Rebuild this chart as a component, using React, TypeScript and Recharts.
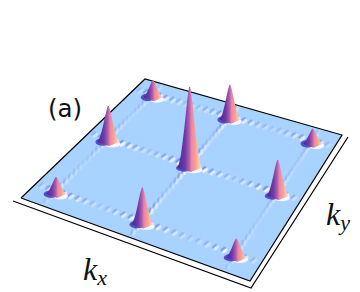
import { ScatterChart, Scatter, XAxis, YAxis } from 'recharts';

// peak positions in the (kx, ky) plane and their heights
const peakKx = [0.1, 0.5, 0.9, 0.1, 0.5, 0.9, 0.1, 0.5, 0.9];
const peakKy = [0.9, 0.9, 0.9, 0.5, 0.5, 0.5, 0.1, 0.1, 0.1];
const peakHeight = [17, 35, 15, 36, 81, 36, 17, 37, 19];
const peakWidth = [10, 10.5, 10, 11, 12, 11, 10.5, 11, 10.5];

// radial profile of one peak
const profileZ = [0, 0.06, 0.15, 0.3, 0.5, 0.7, 0.85, 1];
const profileR = [1, 0.88, 0.74, 0.6, 0.44, 0.3, 0.19, 0.05];

// ripples between neighbouring peaks
const gridK = [0.1, 0.5, 0.9];
const rippleK = [0.135, 0.17, 0.205, 0.24, 0.275, 0.31, 0.345, 0.38, 0.415, 0.45, 0.485];
const rippleAmp = [1, 0.85, 0.68, 0.52, 0.38, 0.26, 0.38, 0.52, 0.68, 0.88, 1];
const outerK = [0.03, 0.065];
const outerAmp = [0.4, 0.75];
const rowAmp = [0.85, 1, 0.75]; // along kx, at ky = 0.1, 0.5, 0.9
const colAmp = [0.45, 0.85, 0.4]; // along ky, at kx = 0.1, 0.5, 0.9

// plane corners on the page
const cornerX = [21, 250, 342, 145];
const cornerY = [198, 281, 135, 79];
const frameX = [13, 251, 348];
const frameY = [201, 288, 137];

const WIDTH = 360;
const HEIGHT = 292;

function project(u: number, v: number) {
  const [x0, x1, x2, x3] = cornerX;
  const [y0, y1, y2, y3] = cornerY;
  const sx = x0 - x1 + x2 - x3;
  const sy = y0 - y1 + y2 - y3;
  const dx1 = x1 - x2;
  const dx2 = x3 - x2;
  const dy1 = y1 - y2;
  const dy2 = y3 - y2;
  const den = dx1 * dy2 - dx2 * dy1;
  const g = (sx * dy2 - dx2 * sy) / den;
  const h = (dx1 * sy - sx * dy1) / den;
  const w = g * u + h * v + 1;
  return {
    x: ((x1 - x0 + g * x1) * u + (x3 - x0 + h * x3) * v + x0) / w,
    y: ((y1 - y0 + g * y1) * u + (y3 - y0 + h * y3) * v + y0) / w,
  };
}

const planeData = [0, 1, 2, 3, 0].map((i) => ({ x: cornerX[i], y: cornerY[i] }));
const frameData = frameX.map((x, i) => ({ x, y: frameY[i] }));

const ripples: { x: number; y: number; amp: number; tilt: number }[] = [];
gridK.forEach((line, n) => {
  const ks = [...outerK, ...rippleK, ...rippleK.map((k) => k + 0.4), ...outerK.map((k) => 1 - k)];
  const amps = [...outerAmp, ...rippleAmp, ...rippleAmp, ...outerAmp];
  ks.forEach((k, i) => {
    ripples.push({ ...project(k, line), amp: amps[i] * rowAmp[n], tilt: 52 });
    ripples.push({ ...project(line, k), amp: amps[i] * colAmp[n], tilt: 18 });
  });
});

const bases = peakKx.map((kx, i) => ({ ...project(kx, peakKy[i]), w: peakWidth[i] }));

function peakOutline(i: number) {
  const base = project(peakKx[i], peakKy[i]);
  const left = profileZ.map((z, n) => ({
    x: base.x - profileR[n] * peakWidth[i],
    y: base.y + 3 - z * peakHeight[i],
  }));
  const right = profileZ
    .map((z, n) => ({
      x: base.x + profileR[n] * peakWidth[i],
      y: base.y + 3 - z * peakHeight[i],
    }))
    .reverse();
  const bottom = { x: base.x + 1, y: base.y + 7 };
  return [...left, ...right, bottom, left[0]];
}

const NoDot = () => <g />;

const RippleMark = ({ cx, cy, payload }: any) => (
  <g filter="url(#soft)" transform={`rotate(${payload.tilt} ${cx} ${cy})`}>
    <ellipse cx={cx - 1.6} cy={cy} rx={1.2} ry={3.2} fill="#5f78e6" opacity={payload.amp * 0.9} />
    <ellipse cx={cx + 1} cy={cy} rx={1.5} ry={3.4} fill="#ffffff" opacity={payload.amp} />
  </g>
);

const BaseMark = ({ cx, cy, payload }: any) => (
  <g filter="url(#soft)">
    <ellipse cx={cx + 4} cy={cy + 5} rx={payload.w * 0.75} ry={3.4} fill="#ffffff" opacity={0.85} />
    <ellipse cx={cx - 5} cy={cy + 3} rx={payload.w * 0.72} ry={3.8} fill="#4030b4" opacity={0.8} />
  </g>
);

export default function App() {
  return (
    <div style={{ position: 'absolute', left: 0, top: 0, width: WIDTH, height: HEIGHT }}>
      <ScatterChart width={WIDTH} height={HEIGHT} margin={{ top: 0, right: 0, bottom: 0, left: 0 }}>
        <defs>
          <linearGradient id="peakFill" x1="0" y1="0" x2="1" y2="0">
            <stop offset="0" stopColor="#46289a" />
            <stop offset="0.3" stopColor="#6d3aa6" />
            <stop offset="0.47" stopColor="#a85cae" />
            <stop offset="0.58" stopColor="#ee84a6" />
            <stop offset="0.75" stopColor="#f8a48e" />
            <stop offset="1" stopColor="#ffe2cc" />
          </linearGradient>
          <filter id="soft" x="-60%" y="-60%" width="220%" height="220%">
            <feGaussianBlur stdDeviation="0.55" />
          </filter>
        </defs>
        <XAxis type="number" dataKey="x" domain={[0, WIDTH]} hide />
        <YAxis type="number" dataKey="y" domain={[0, HEIGHT]} reversed hide />
        <Scatter
          data={frameData}
          isAnimationActive={false}
          shape={NoDot}
          line={{ stroke: '#000000', strokeWidth: 1.2, fill: 'none' }}
        />
        <Scatter
          data={planeData}
          isAnimationActive={false}
          shape={NoDot}
          line={{ stroke: '#000000', strokeWidth: 1.2, fill: '#a8d2ff' }}
        />
        <Scatter data={ripples} isAnimationActive={false} shape={RippleMark} />
        <Scatter data={bases} isAnimationActive={false} shape={BaseMark} />
        {peakKx.map((_, i) => (
          <Scatter
            key={i}
            data={peakOutline(i)}
            isAnimationActive={false}
            shape={NoDot}
            line={{ stroke: 'none', fill: 'url(#peakFill)' }}
          />
        ))}
        <text x={48} y={117} fontFamily="DejaVu Sans" fontSize={24.5} fill="#111111">
          (a)
        </text>
        <text x={83} y={280} fontFamily="Liberation Serif" fontStyle="italic" fontSize={32} fill="#111111">
          k
          <tspan fontSize={22} dy={5}>
            x
          </tspan>
        </text>
        <text x={326} y={225} fontFamily="Liberation Serif" fontStyle="italic" fontSize={32} fill="#111111">
          k
          <tspan fontSize={22} dy={5}>
            y
          </tspan>
        </text>
      </ScatterChart>
    </div>
  );
}
